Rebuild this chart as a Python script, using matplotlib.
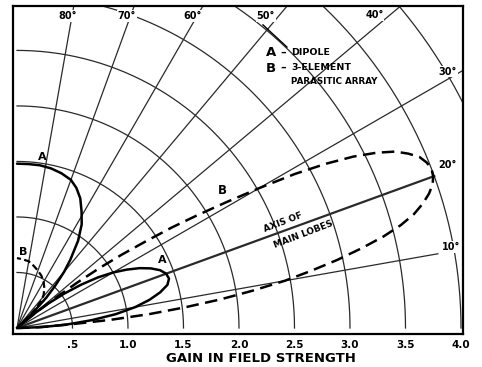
import numpy as np
import matplotlib
matplotlib.use("Agg")
import matplotlib.pyplot as plt

plt.rcParams['font.family'] = ['DejaVu Sans']
plt.rcParams['font.weight'] = 'bold'

# Grid of the chart (polar grid drawn on a quarter plane)
ring_radii = [0.5, 1.0, 1.5, 2.0, 2.5, 3.0, 3.5, 4.0, 4.5, 5.0]
spoke_angles = [10, 20, 30, 40, 50, 60, 70, 80]
spoke_lengths = [3.85, 4.0, 5.0, 5.0, 5.0, 5.0, 5.0, 5.0]
spoke_labels = ['10°', '20°', '30°', '40°', '50°', '60°', '70°', '80°']

tick_values = [0.5, 1.0, 1.5, 2.0, 2.5, 3.0, 3.5, 4.0]
tick_labels = ['.5', '1.0', '1.5', '2.0', '2.5', '3.0', '3.5', '4.0']

# A - dipole (angle in degrees, relative field strength)
dipole_theta = [0, 2, 4, 6, 8, 10, 12, 14, 16, 18, 20, 22, 24, 26, 28, 30, 32, 34,
                36, 38, 40, 42, 44, 46, 48, 50, 52, 55, 58, 61, 64, 67, 70, 74,
                78, 82, 86, 90]
dipole_r = [0, 0.22, 0.45, 0.68, 0.9, 1.08, 1.22, 1.33, 1.41, 1.44, 1.43, 1.39,
            1.32, 1.23, 1.12, 1.0, 0.86, 0.7, 0.53, 0.36, 0.18, 0.02, 0.2, 0.38,
            0.52, 0.66, 0.78, 0.96, 1.1, 1.2, 1.3, 1.37, 1.42, 1.45, 1.47, 1.48,
            1.48, 1.48]

# B - 3-element parasitic array
array_theta = [0, 1.5, 3, 4, 5, 6, 7, 8, 9, 10, 11, 12, 13, 14, 15, 16, 17, 18,
               19, 20, 21, 22, 23, 24, 25, 26, 27, 28, 29, 30, 31, 32, 33, 34,
               35, 36, 37, 38, 39, 40, 41]
array_r = [0, 0.12, 0.3, 0.5, 0.85, 1.2, 1.52, 1.85, 2.15, 2.45, 2.7, 2.95, 3.18,
           3.4, 3.58, 3.72, 3.82, 3.9, 3.96, 3.99, 4.0, 3.98, 3.94, 3.86, 3.76,
           3.6, 3.4, 3.15, 2.86, 2.52, 2.2, 1.92, 1.66, 1.38, 1.15, 0.92, 0.68,
           0.45, 0.25, 0.08, 0]
array_hi_theta = [41, 44, 46, 48, 51, 55, 60, 65, 70, 75, 80, 85, 90]
array_hi_r = [0, 0.12, 0.24, 0.32, 0.38, 0.43, 0.48, 0.52, 0.55, 0.58, 0.61, 0.62, 0.63]


def to_xy(theta, r):
    t = np.radians(np.asarray(theta, dtype=float))
    r = np.asarray(r, dtype=float)
    return r * np.cos(t), r * np.sin(t)


fig = plt.figure(figsize=(4.82, 3.67), dpi=100)
ax = fig.add_axes([13 / 482, 1 - 334 / 367, 450 / 482, 328 / 367])
ax.set_xlim(-0.036, 4.018)
ax.set_ylim(-0.054, 2.90)

grid_color = '#2a2a2a'

# rings
t = np.linspace(0, np.pi / 2, 200)
for rr in ring_radii:
    ax.plot(rr * np.cos(t), rr * np.sin(t), color=grid_color, lw=0.9, zorder=1)

# spokes
for ang, ln in zip(spoke_angles, spoke_lengths):
    x, y = to_xy([0, ang], [0, ln])
    ax.plot(x, y, color=grid_color, lw=1.6 if ang == 20 else 0.9, zorder=1)

# patterns
x, y = to_xy(dipole_theta, dipole_r)
ax.plot(x, y, color='black', lw=1.8, zorder=3, solid_capstyle='round')

x, y = to_xy(array_theta, array_r)
ax.plot(x, y, color='black', lw=1.8, dashes=(5, 2.6), zorder=3)
x, y = to_xy(array_hi_theta, array_hi_r)
ax.plot(x, y, color='black', lw=1.6, dashes=(3, 1.5), zorder=3)

# degree labels
deg_pos = {'80°': (0.46, 2.81), '70°': (0.99, 2.81), '60°': (1.58, 2.81),
           '50°': (2.24, 2.81), '40°': (3.22, 2.82), '30°': (3.88, 2.31),
           '20°': (3.88, 1.47), '10°': (3.91, 0.73)}
for lab in spoke_labels:
    px, py = deg_pos[lab]
    ax.text(px, py, lab, fontsize=7, ha='center', va='center', zorder=5,
            bbox=dict(facecolor='white', edgecolor='none', pad=0.5))

# legend text
ax.plot([2.216, 2.432], [2.73, 2.53], color='black', lw=1.0, zorder=4)
ax.text(2.24, 2.48, 'A', fontsize=9.5, ha='left', va='center')
ax.text(2.37, 2.48, '–', fontsize=8, ha='left', va='center')
ax.text(2.47, 2.48, 'DIPOLE', fontsize=6.8, ha='left', va='center')
ax.text(2.24, 2.34, 'B', fontsize=9.5, ha='left', va='center')
ax.text(2.37, 2.34, '–', fontsize=8, ha='left', va='center')
ax.text(2.47, 2.35, '3-ELEMENT', fontsize=6.8, ha='left', va='center')
ax.text(2.47, 2.22, 'PARASITIC ARRAY', fontsize=6.3, ha='left', va='center')

# curve labels
ax.text(0.225, 1.54, 'A', fontsize=8, ha='center', va='center', zorder=5)
ax.text(1.31, 0.61, 'A', fontsize=8, ha='center', va='center', zorder=5)
ax.text(1.85, 1.24, 'B', fontsize=8.5, ha='center', va='center', zorder=5)
ax.text(0.055, 0.685, 'B', fontsize=8, ha='center', va='center', zorder=5)

ax.text(2.40, 0.955, 'AXIS OF', fontsize=6.5, rotation=21, ha='center', va='center')
ax.text(2.58, 0.84, 'MAIN LOBES', fontsize=6.5, rotation=21, ha='center', va='center')

# axes styling
for s in ax.spines.values():
    s.set_linewidth(1.6)
ax.set_xticks(tick_values)
ax.set_xticklabels(tick_labels, fontsize=7.5, fontweight='bold')
ax.tick_params(axis='x', length=0, pad=4)
ax.set_yticks([])
fig.text(261 / 482, 1 - 359 / 367, 'GAIN IN FIELD STRENGTH', fontsize=9.5,
         fontweight='bold', ha='center', va='center')

fig.savefig('out.png', dpi=100)
